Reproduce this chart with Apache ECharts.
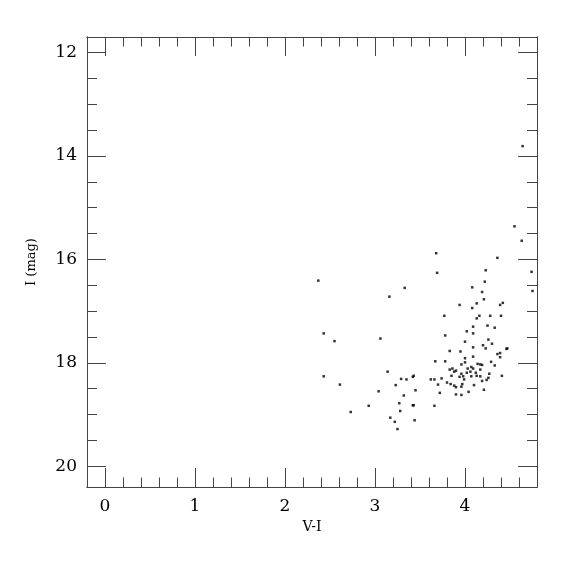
<!DOCTYPE html>
<html><head><meta charset="utf-8">
<script src="https://cdn.jsdelivr.net/npm/echarts@6/dist/echarts.min.js"></script>
<style>html,body{margin:0;padding:0;background:#fff}#c{width:575px;height:575px}</style>
</head><body><div id="c"></div>
<script>
// V-I colour values
const colorVI = [4.63,3.68,4.36,4.23,3.69,4.74,2.37,4.22,3.33,4.08,4.19,4.75,3.16,4.21,4.42,4.39,3.94,4.13,4.08,3.77,
4.16,4.28,4.40,4.13,4.09,4.25,4.33,4.02,4.09,3.78,2.43,3.06,2.55,4.26,4.00,4.20,4.30,4.23,4.09,4.46,
4.47,3.83,3.95,4.39,4.36,4.39,4.09,4.00,3.67,3.78,4.00,4.29,4.14,4.17,4.19,4.33,3.96,4.07,4.09,4.03,
3.86,3.83,3.90,3.88,4.17,4.06,4.12,4.02,3.14,3.96,4.27,4.41,3.43,3.85,4.07,4.13,4.17,3.94,3.98,2.43,
3.42,3.35,3.29,3.62,3.66,3.74,3.99,4.26,4.24,4.19,3.80,3.84,3.97,2.61,3.23,3.70,3.88,3.90,3.96,4.10,
3.04,3.45,3.72,4.04,4.21,3.90,3.96,3.32,3.27,3.42,3.43,3.66,2.93,2.73,3.28,3.17,3.22,3.44,3.25,4.64,4.55];
// I magnitudes
const magI = [15.64,15.88,15.97,16.21,16.26,16.24,16.41,16.43,16.55,16.54,16.63,16.61,16.72,16.77,16.84,16.88,16.88,16.85,16.94,17.09,
17.09,17.09,17.09,17.14,17.30,17.28,17.32,17.39,17.43,17.47,17.43,17.53,17.58,17.55,17.59,17.66,17.63,17.72,17.70,17.73,
17.72,17.77,17.78,17.81,17.83,17.89,17.88,17.91,17.97,17.97,17.99,17.98,18.02,18.03,18.04,18.05,18.03,18.08,18.11,18.11,
18.11,18.13,18.15,18.17,18.13,18.17,18.19,18.19,18.17,18.21,18.21,18.25,18.25,18.25,18.26,18.25,18.26,18.27,18.26,18.26,
18.27,18.32,18.31,18.32,18.32,18.30,18.32,18.29,18.33,18.35,18.38,18.41,18.41,18.42,18.43,18.42,18.44,18.47,18.46,18.43,
18.55,18.53,18.58,18.56,18.52,18.61,18.62,18.63,18.78,18.82,18.82,18.83,18.83,18.95,18.93,19.06,19.14,19.11,19.28,13.81,15.36];
const xTickLabels = [0,1,2,3,4];
const yTickLabels = [12,14,16,18,20];
const xMinorTicks = [];
for (let i = -1; i <= 24; i++) xMinorTicks.push(+(i*0.2).toFixed(1));
const yMinorTicks = [];
for (let i = 24; i <= 40; i++) yMinorTicks.push(i*0.5);

const points = colorVI.map((v,i)=>[v, magI[i]]);
const FONT = 'DejaVu Serif';
const lineCol = '#444';

function xAx(pos, major, showLabel, name){
  return {
    type:'value', position:pos, min:-0.2, max:4.8, gridIndex:0,
    name: name||'', nameLocation:'middle', nameGap:30,
    nameTextStyle:{fontFamily:FONT,fontSize:14,color:'#000'},
    axisLine:{show:true,onZero:false,lineStyle:{color:lineCol,width:1}},
    axisTick:{show:true,inside:true,length:major?19:9.5,customValues:major?xTickLabels:xMinorTicks,lineStyle:{color:lineCol,width:1}},
    axisLabel:{show:showLabel,customValues:xTickLabels,fontFamily:FONT,fontSize:17,color:'#000',margin:11},
    splitLine:{show:false}
  };
}
function yAx(pos, major, showLabel, name){
  return {
    type:'value', position:pos, min:11.7, max:20.4, inverse:true, gridIndex:0,
    name: name||'', nameLocation:'middle', nameGap:49, nameRotate:90,
    nameTextStyle:{fontFamily:FONT,fontSize:13,color:'#000'},
    axisLine:{show:true,onZero:false,lineStyle:{color:lineCol,width:1}},
    axisTick:{show:true,inside:true,length:major?19:10,customValues:major?yTickLabels:yMinorTicks,lineStyle:{color:lineCol,width:1}},
    axisLabel:{show:showLabel,customValues:yTickLabels,fontFamily:FONT,fontSize:17,color:'#000',margin:10},
    splitLine:{show:false}
  };
}

const chart = echarts.init(document.getElementById('c'), null, {renderer:'canvas'});
chart.setOption({
  animation:false,
  backgroundColor:'#fff',
  grid:{left:87,right:38,top:37,bottom:88,containLabel:false,outerBoundsMode:'none'},
  xAxis:[xAx('bottom',true,true,'V-I'), xAx('bottom',false,false), xAx('top',true,false), xAx('top',false,false)],
  yAxis:[yAx('left',true,true,'I (mag)'), yAx('left',false,false), yAx('right',true,false), yAx('right',false,false)],
  series:[{
    type:'scatter', xAxisIndex:0, yAxisIndex:0, data:points,
    symbol:'rect', symbolSize:2.5, itemStyle:{color:'#000'}, silent:true
  }]
});
</script>
</body></html>
